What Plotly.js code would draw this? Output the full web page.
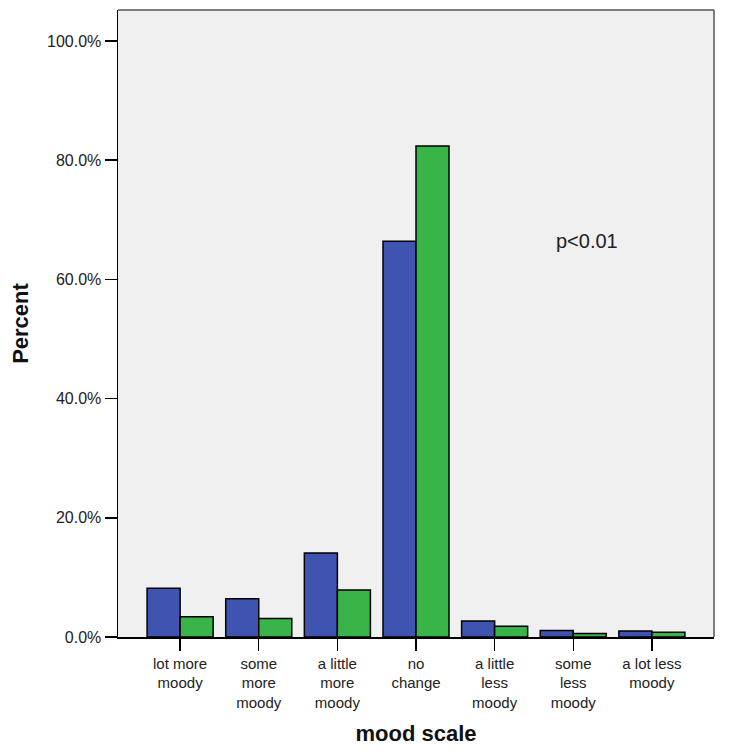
<!DOCTYPE html>
<html><head><meta charset="utf-8">
<script src="https://cdn.plot.ly/plotly-3.0.1.min.js"></script>
<style>body{margin:0;background:#fff}#c{width:731px;height:755px}</style>
</head><body><div id="c"></div>
<script>
var categories = ["lot more<br>moody","some<br>more<br>moody","a little<br>more<br>moody","no<br>change","a little<br>less<br>moody","some<br>less<br>moody","a lot less<br>moody"];
var seriesBlue = [8.2, 6.4, 14.1, 66.4, 2.7, 1.1, 1.0];
var seriesGreen = [3.4, 3.1, 7.9, 82.4, 1.8, 0.6, 0.8];
var yTicks = [0, 20, 40, 60, 80, 100];

var idx = categories.map(function(_, i){ return i; });
var traces = [
  {type:'bar', x: idx, y: seriesBlue, marker:{color:'#3F53B0', line:{color:'#000', width:1.5}}, hoverinfo:'y'},
  {type:'bar', x: idx, y: seriesGreen, marker:{color:'#38B449', line:{color:'#000', width:1.5}}, hoverinfo:'y'}
];
var layout = {
  width:731, height:755,
  margin:{l:118, r:17, t:10, b:118},
  paper_bgcolor:'#fff', plot_bgcolor:'#F0F0F0',
  showlegend:false,
  barmode:'group', bargap:0.16, bargroupgap:0,
  font:{family:'Arial, Liberation Sans, sans-serif', color:'#222', size:16},
  xaxis:{range:[-0.79, 6.79], tickvals: idx, ticktext: categories, showgrid:false, zeroline:false,
    showline:true, linecolor:'#000', linewidth:1.5, ticks:'outside', ticklen:12, tickwidth:1.5, tickcolor:'#000',
    tickfont:{size:15, color:'#222'},
    title:{text:'<b>mood scale</b>', font:{size:22, color:'#111'}, standoff:16}},
  yaxis:{range:[0, 105.2], tickvals: yTicks, ticktext: yTicks.map(function(v){return v.toFixed(1)+'%';}),
    showgrid:false, zeroline:false, showline:true, linecolor:'#000', linewidth:1.5,
    ticks:'outside', ticklen:12, tickwidth:1.5, tickcolor:'#000',
    tickfont:{size:16, color:'#222'},
    title:{text:'<b>Percent</b>', font:{size:22, color:'#111'}, standoff:12}},
  shapes:[
    {type:'line', xref:'paper', yref:'paper', x0:0, x1:1, y0:1, y1:1, line:{color:'#555', width:1.5}},
    {type:'line', xref:'paper', yref:'paper', x0:1, x1:1, y0:0, y1:1, line:{color:'#555', width:1.5}}
  ],
  annotations:[
    {text:'p<0.01', xref:'paper', yref:'y', x:0.787, y:66.4, xanchor:'center', yanchor:'middle', showarrow:false, font:{size:20, color:'#222'}}
  ]
};
Plotly.newPlot('c', traces, layout, {displayModeBar:false, staticPlot:true});
</script></body></html>
